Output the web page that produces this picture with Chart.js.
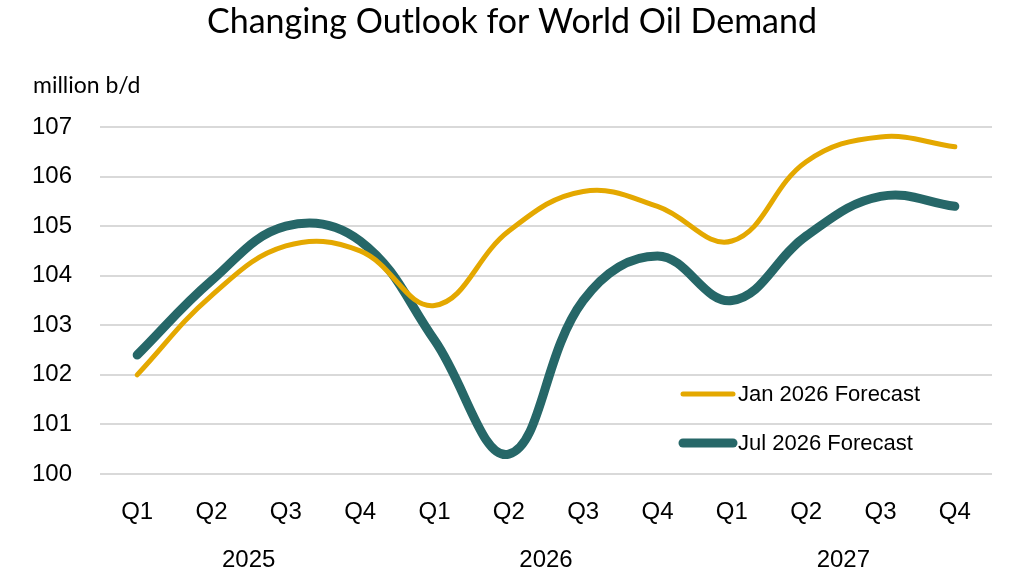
<!DOCTYPE html>
<html>
<head>
<meta charset="utf-8">
<script src="https://cdn.jsdelivr.net/npm/chart.js@4"></script>
<style>
  html, body { margin: 0; padding: 0; background: #fff; }
  #wrap { width: 1024px; height: 579px; }
</style>
</head>
<body>
<div id="wrap"><canvas id="oilChart" width="1024" height="579"></canvas></div>
<script>
const quarters = ['Q1', 'Q2', 'Q3', 'Q4', 'Q1', 'Q2', 'Q3', 'Q4', 'Q1', 'Q2', 'Q3', 'Q4'];
const years = ['2025', '2026', '2027'];
const janForecast = [102.0, 103.6, 104.6, 104.5, 103.4, 104.9, 105.7, 105.4, 104.7, 106.3, 106.8, 106.6];
const julForecast = [102.4, 103.9, 105.0, 104.7, 102.7, 100.4, 103.5, 104.4, 103.5, 104.8, 105.6, 105.4];
const yTicks = [100, 101, 102, 103, 104, 105, 106, 107];

const titleText = 'Changing Outlook for World Oil Demand';
const unitText = 'million b/d';
const tickFont = "'Liberation Sans', Arial, sans-serif";

// title, unit label, year row and the in-plot legend
const extras = {
    id: 'extras',
    afterDraw(chart) {
        const c = chart.ctx;
        const x = chart.scales.x;
        const area = chart.chartArea;
        c.save();
        c.fillStyle = '#000';
        c.textBaseline = 'middle';

        c.font = "34px Lato, 'Open Sans', sans-serif";
        c.textAlign = 'center';
        c.fillText(titleText, chart.width / 2, 22);

        c.font = "23px Lato, 'Open Sans', sans-serif";
        c.textAlign = 'left';
        c.fillText(unitText, 33, 86);

        c.font = '24px ' + tickFont;
        c.textAlign = 'center';
        years.forEach((y, i) => {
            const px = (x.getPixelForValue(i * 4) + x.getPixelForValue(i * 4 + 3)) / 2;
            c.fillText(y, px, 560);
        });

        // legend
        const lx = area.right - 309;
        const rows = [394, 443];
        c.font = '22px ' + tickFont;
        c.textAlign = 'left';
        chart.data.datasets.forEach((ds, i) => {
            c.strokeStyle = ds.borderColor;
            c.lineWidth = ds.borderWidth;
            c.lineCap = 'round';
            c.beginPath();
            c.moveTo(lx, rows[i]);
            c.lineTo(lx + 50, rows[i]);
            c.stroke();
            c.fillStyle = '#000';
            c.fillText(ds.label, lx + 55, rows[i] + 1);
        });
        c.restore();
    }
};

const ctx = document.getElementById('oilChart').getContext('2d');
const oilChart = new Chart(ctx, {
    type: 'line',
    data: {
        labels: quarters,
        datasets: [{
            label: 'Jan 2026 Forecast',
            data: janForecast,
            borderColor: '#E4A800',
            borderWidth: 5,
            borderCapStyle: 'round',
            tension: 0.4,
            pointRadius: 0,
            fill: false
        }, {
            label: 'Jul 2026 Forecast',
            data: julForecast,
            borderColor: '#266768',
            borderWidth: 9,
            borderCapStyle: 'round',
            tension: 0.4,
            pointRadius: 0,
            fill: false
        }]
    },
    options: {
        responsive: false,
        animation: false,
        layout: {
            padding: { top: 127, right: 32, bottom: 0, left: 0 }
        },
        plugins: {
            legend: { display: false },
            title: { display: false },
            tooltip: { enabled: false }
        },
        scales: {
            x: {
                offset: true,
                grid: { display: false, drawTicks: false },
                border: { display: false },
                ticks: {
                    color: '#000',
                    padding: 24,
                    maxRotation: 0,
                    autoSkip: false,
                    font: { family: tickFont, size: 24 }
                },
                afterFit(s) { s.height = 105; }
            },
            y: {
                min: yTicks[0],
                max: yTicks[yTicks.length - 1],
                afterBuildTicks(s) { s.ticks = yTicks.map(v => ({ value: v })); },
                grid: { color: '#d9d9d9', lineWidth: 2, drawTicks: false },
                border: { display: false },
                ticks: {
                    color: '#000',
                    padding: 28,
                    font: { family: tickFont, size: 24 }
                },
                afterFit(s) { s.width = 100; }
            }
        }
    },
    plugins: [extras]
});
</script>
</body>
</html>
